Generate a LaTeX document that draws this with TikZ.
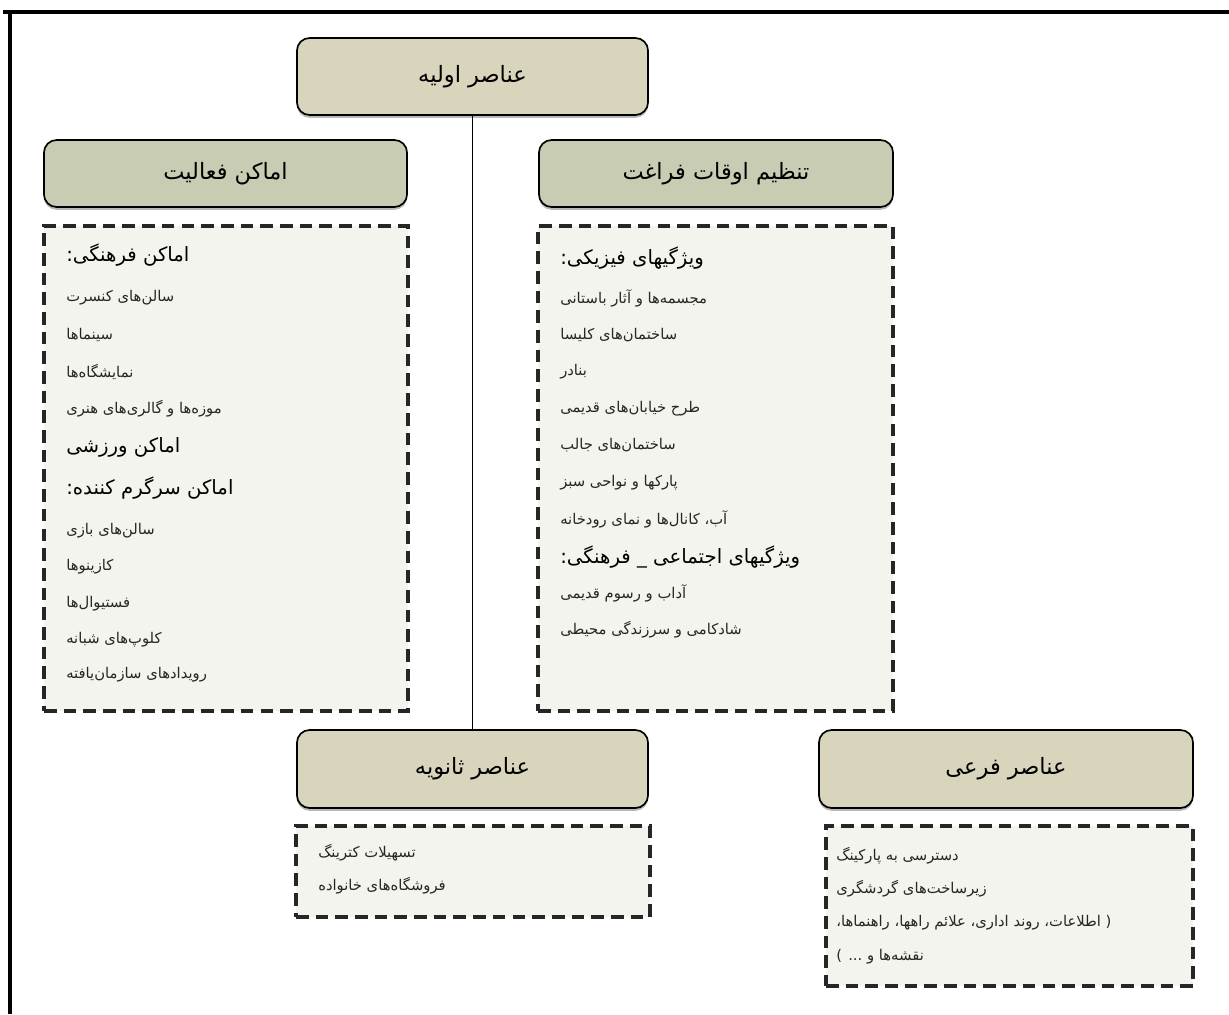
\documentclass[tikz,border=0pt]{standalone}
\usepackage{fontspec}
\newfontfamily\arabicfont[Script=Arabic]{DejaVu Sans}
\TeXXeTstate=1
\usetikzlibrary{shadows}
\definecolor{boxtan}{HTML}{D9D5BD}
\definecolor{boxsage}{HTML}{C7CCB3}
\definecolor{listbg}{HTML}{F4F4EE}
\newcommand{\fa}[1]{\arabicfont\beginR #1\endR}

\begin{document}
\begin{tikzpicture}[x=0.025cm, y=-0.025cm,
		head/.style={draw, line width=1.2pt, rounded corners=9pt, inner sep=0pt,
			drop shadow={shadow xshift=0pt, shadow yshift=-2pt, fill=black!55},
			font=\fontsize{16}{19}\selectfont},
		listbox/.style={draw=black!85, line width=2.7pt, dash pattern=on 9pt off 5pt, fill=listbg, inner sep=0pt},
		item/.style={anchor=west, inner sep=0pt, text=black!85, font=\fontsize{10.5}{12}\selectfont},
		subhead/.style={anchor=west, inner sep=0pt, font=\fontsize{14}{16}\selectfont}]
		\useasboundingbox (0,0) rectangle (1229,1014);
		\fill[white] (0,0) rectangle (1229,1014);
		
		% frame
		\draw[line width=2.2pt] (3,12) -- (1229,12);
		\draw[line width=2.2pt] (10,12) -- (10,1014);
		
		% headers
		\node[head, fill=boxtan, minimum width=8.775cm, minimum height=1.925cm] (primary) at (472.5,76.5) {\fa{عناصر اولیه}};
		\node[head, fill=boxsage, minimum width=9.075cm, minimum height=1.675cm] (activity) at (225.5,173.5) {\fa{اماکن فعالیت}};
		\node[head, fill=boxsage, minimum width=8.85cm, minimum height=1.675cm] (leisure) at (716,173.5) {\fa{تنظیم اوقات فراغت}};
		\node[head, fill=boxtan, minimum width=8.775cm, minimum height=1.95cm] (secondary) at (472.5,769) {\fa{عناصر ثانویه}};
		\node[head, fill=boxtan, minimum width=9.35cm, minimum height=1.95cm] (tertiary) at (1006,769) {\fa{عناصر فرعی}};
		
		\draw[line width=1.4pt] (primary.south) -- (secondary.north);
		
		% lists
		\node[listbox, minimum width=9.1cm, minimum height=12.125cm] (activitylist) at (226,468.5) {};
		\node[listbox, minimum width=8.875cm, minimum height=12.125cm] (leisurelist) at (715.5,468.5) {};
		\node[listbox, minimum width=8.85cm, minimum height=2.275cm] (secondarylist) at (473,871.5) {};
		\node[listbox, minimum width=9.175cm, minimum height=4cm] (tertiarylist) at (1009.5,906) {};
		
		\node[subhead] (a1) at (66,255) {\fa{اماکن فرهنگی:}};
		\node[item] (a2) at (66,298) {\fa{سالن‌های کنسرت}};
		\node[item] (a3) at (66,335) {\fa{سینماها}};
		\node[item] (a4) at (66,372) {\fa{نمایشگاه‌ها}};
		\node[item] (a5) at (66,409) {\fa{موزه‌ها و گالری‌های هنری}};
		\node[subhead] (a6) at (66,447) {\fa{اماکن ورزشی}};
		\node[subhead] (a7) at (66,488) {\fa{اماکن سرگرم کننده:}};
		\node[item] (a8) at (66,531) {\fa{سالن‌های بازی}};
		\node[item] (a9) at (66,567) {\fa{کازینوها}};
		\node[item] (a10) at (66,604) {\fa{فستیوال‌ها}};
		\node[item] (a11) at (66,640) {\fa{کلوپ‌های شبانه}};
		\node[item] (a12) at (66,675) {\fa{رویدادهای سازمان‌یافته}};
		
		\node[subhead] (l1) at (560,258) {\fa{ویژگیهای فیزیکی:}};
		\node[item] (l2) at (560,298) {\fa{مجسمه‌ها و آثار باستانی}};
		\node[item] (l3) at (560,335) {\fa{ساختمان‌های کلیسا}};
		\node[item] (l4) at (560,372) {\fa{بنادر}};
		\node[item] (l5) at (560,409) {\fa{طرح خیابان‌های قدیمی}};
		\node[item] (l6) at (560,445) {\fa{ساختمان‌های جالب}};
		\node[item] (l7) at (560,483) {\fa{پارکها و نواحی سبز}};
		\node[item] (l8) at (560,519) {\fa{آب، کانال‌ها و نمای رودخانه}};
		\node[subhead] (l9) at (560,557) {\fa{ویژگیهای اجتماعی \_ فرهنگی:}};
		\node[item] (l10) at (560,593) {\fa{آداب و رسوم قدیمی}};
		\node[item] (l11) at (560,630) {\fa{شادکامی و سرزندگی محیطی}};
		
		\node[item] (s1) at (318,853) {\fa{تسهیلات کترینگ}};
		\node[item] (s2) at (318,886) {\fa{فروشگاه‌های خانواده}};
		
		\node[item] (t1) at (836,856) {\fa{دسترسی به پارکینگ}};
		\node[item] (t2) at (836,889) {\fa{زیرساخت‌های گردشگری}};
		\node[item] (t3) at (836,923) {\fa{( اطلاعات، روند اداری، علائم راهها، راهنماها،}};
		\node[item] (t4) at (836,957) {\fa{نقشه‌ها و ... )}};
	\end{tikzpicture}
\end{document}
